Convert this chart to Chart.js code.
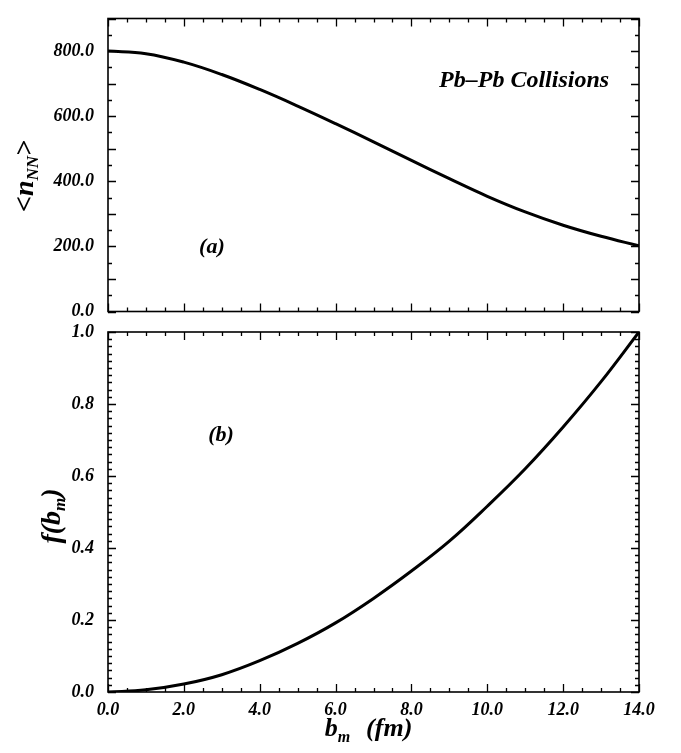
<!DOCTYPE html>
<html>
<head>
  <title>Pb-Pb Collisions</title>
  <script src="https://cdn.jsdelivr.net/npm/chart.js"></script>
  <style>
    body { margin: 0; background: #fff; }
    #wrap { position: relative; width: 681px; height: 753px; }
    canvas { position: absolute; left: 0; }
    #topChart { top: 0; }
    #bottomChart { top: 312px; }
  </style>
</head>
<body>
<div id="wrap">
  <canvas id="topChart" width="681" height="330"></canvas>
  <canvas id="bottomChart" width="681" height="441"></canvas>
</div>
<script>
  // b_m in fm
  const bm = [0, 1, 2, 3, 4, 5, 6, 7, 8, 9, 10, 11, 12, 13, 14];
  // <n_NN> (panel a)
  const nNN = [800, 792, 766, 728, 682, 631, 577, 521, 464, 408, 354, 306, 265, 231, 202];
  // f(b_m) (panel b)
  const fbm = [0, 0.006, 0.022, 0.048, 0.087, 0.135, 0.192, 0.260, 0.336, 0.419, 0.516, 0.620, 0.736, 0.862, 1.0];

  const xTicks = [0, 2, 4, 6, 8, 10, 12, 14];
  const nTicks = [0, 200, 400, 600, 800];
  const fTicks = [0, 0.2, 0.4, 0.6, 0.8, 1.0];

  const FAMILY = "'Liberation Serif', 'Times New Roman', serif";
  const fontStr = size => `italic bold ${size}px ${FAMILY}`;
  const xTickFont = { family: FAMILY, size: 18, style: 'italic', weight: 'bold' };
  // small lineHeight so the top label does not push the plot area down
  const yTickFont = { family: FAMILY, size: 18, style: 'italic', weight: 'bold', lineHeight: 0.5 };

  function isMajor(v, step) {
    const r = v / step;
    return Math.abs(r - Math.round(r)) < 1e-6;
  }

  // draws a run of text pieces (for subscripts), centred on cx
  function drawRich(ctx, parts, cx, baseY) {
    let w = 0;
    parts.forEach(p => {
      if (p.gap) { p.w = p.gap; } else { ctx.font = fontStr(p.size); p.w = ctx.measureText(p.t).width; }
      w += p.w;
    });
    let x = cx - w / 2;
    ctx.textAlign = 'left';
    ctx.textBaseline = 'alphabetic';
    parts.forEach(p => {
      if (!p.gap) {
        ctx.font = fontStr(p.size);
        ctx.fillText(p.t, x, baseY + (p.dy || 0));
      }
      x += p.w;
    });
  }

  // box round the plot area with inward ticks on all four sides
  const framePlugin = {
    id: 'frame',
    afterDatasetsDraw(chart, args, opts) {
      const { ctx, chartArea: a, scales: { x, y } } = chart;
      ctx.save();
      ctx.strokeStyle = '#000';
      ctx.lineWidth = 1.6;
      ctx.strokeRect(a.left, a.top, a.right - a.left, a.bottom - a.top);
      ctx.lineWidth = 1.3;
      ctx.beginPath();
      let n = Math.round((x.max - x.min) / opts.xMinor);
      for (let i = 0; i <= n; i++) {
        const v = x.min + i * opts.xMinor;
        const px = Math.round(x.getPixelForValue(v)) + 0.5;
        const len = isMajor(v, opts.xMajor) ? 8 : 4;
        ctx.moveTo(px, a.bottom); ctx.lineTo(px, a.bottom - len);
        ctx.moveTo(px, a.top); ctx.lineTo(px, a.top + len);
      }
      n = Math.round((y.max - y.min) / opts.yMinor);
      for (let i = 0; i <= n; i++) {
        const v = y.min + i * opts.yMinor;
        const py = Math.round(y.getPixelForValue(v)) + 0.5;
        const len = isMajor(v, opts.yMajor) ? 8 : 4;
        ctx.moveTo(a.left, py); ctx.lineTo(a.left + len, py);
        ctx.moveTo(a.right, py); ctx.lineTo(a.right - len, py);
      }
      ctx.stroke();

      // annotations and axis titles
      ctx.fillStyle = '#000';
      (opts.notes || []).forEach(t => {
        ctx.font = fontStr(t.size);
        ctx.textAlign = 'center';
        ctx.textBaseline = 'middle';
        ctx.fillText(t.text, x.getPixelForValue(t.x), y.getPixelForValue(t.y));
      });
      if (opts.yTitle) {
        ctx.save();
        ctx.translate(opts.yTitle.x, (a.top + a.bottom) / 2 + opts.yTitle.shift);
        ctx.rotate(-Math.PI / 2);
        drawRich(ctx, opts.yTitle.parts, 0, 0);
        ctx.restore();
      }
      if (opts.xTitle) {
        drawRich(ctx, opts.xTitle.parts, (a.left + a.right) / 2 + opts.xTitle.shift, opts.xTitle.y);
      }
      ctx.restore();
    }
  };

  function makeChart(id, values, yMin, yMax, yTicks, extra) {
    return new Chart(document.getElementById(id), {
      type: 'line',
      data: {
        datasets: [{
          data: bm.map((b, i) => ({ x: b, y: values[i] })),
          borderColor: '#000',
          borderWidth: 3,
          pointRadius: 0,
          tension: 0.4,
          fill: false
        }]
      },
      options: {
        responsive: false,
        animation: false,
        layout: { padding: extra.padding },
        plugins: {
          legend: { display: false },
          tooltip: { enabled: false },
          frame: extra.frame
        },
        scales: {
          x: {
            type: 'linear', min: 0, max: 14,
            afterBuildTicks: s => { s.ticks = xTicks.map(v => ({ value: v })); },
            afterFit: s => { s.height = extra.xHeight; },
            grid: { display: false, drawTicks: false },
            border: { display: false },
            ticks: { display: extra.showX, padding: 8, color: '#000', font: xTickFont, maxRotation: 0, callback: v => v.toFixed(1) }
          },
          y: {
            type: 'linear', min: yMin, max: yMax,
            afterBuildTicks: s => { s.ticks = yTicks.map(v => ({ value: v })); },
            afterFit: s => { s.width = 108; },
            grid: { display: false, drawTicks: false },
            border: { display: false },
            ticks: { padding: 14, color: '#000', font: yTickFont, callback: v => v.toFixed(1) }
          }
        }
      },
      plugins: [framePlugin]
    });
  }

  makeChart('topChart', nNN, 0, 900, nTicks, {
    padding: { left: 0, right: 42, top: 5, bottom: 0 },
    xHeight: 17,
    showX: false,
    frame: {
      xMinor: 0.5, xMajor: 2, yMinor: 50, yMajor: 100,
      notes: [
        { text: '(a)', x: 2.74, y: 198, size: 22 },
        { text: 'Pb\u2013Pb Collisions', x: 10.97, y: 710, size: 24 }
      ],
      yTitle: {
        x: 33, shift: 11,
        parts: [{ t: '<', size: 28 }, { t: 'n', size: 28 }, { t: 'NN', size: 17, dy: 5 }, { t: '>', size: 28 }]
      }
    }
  });

  makeChart('bottomChart', fbm, 0, 1, fTicks, {
    padding: { left: 0, right: 42, top: 20, bottom: 0 },
    xHeight: 61,
    showX: true,
    frame: {
      xMinor: 0.5, xMajor: 2, yMinor: 0.02, yMajor: 0.2,
      notes: [
        { text: '(b)', x: 2.98, y: 0.712, size: 22 }
      ],
      yTitle: {
        x: 60, shift: 4,
        parts: [{ t: 'f(b', size: 28 }, { t: 'm', size: 17, dy: 5 }, { t: ')', size: 28 }]
      },
      xTitle: {
        y: 424, shift: -5,
        parts: [{ t: 'b', size: 26 }, { t: 'm', size: 16, dy: 6 }, { gap: 16 }, { t: '(fm)', size: 26 }]
      }
    }
  });
</script>
</body>
</html>
